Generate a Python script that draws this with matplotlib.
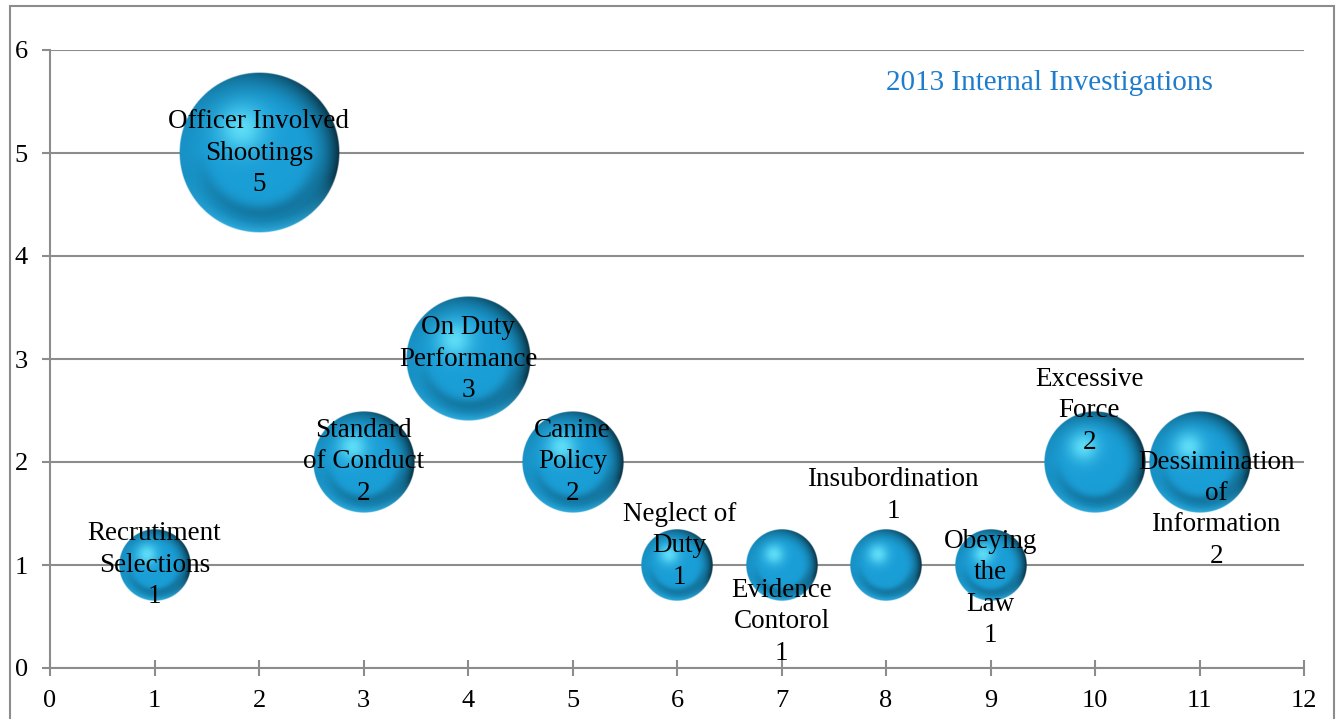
import numpy as np
import matplotlib
matplotlib.use("Agg")
import matplotlib.pyplot as plt
from matplotlib.patches import Rectangle

# investigation categories (x position, count, bubble size = count)
categories = ["Recrutiment\nSelections", "Officer Involved\nShootings", "Standard\nof Conduct",
              "On Duty\nPerformance", "Canine\nPolicy", "Neglect of\nDuty", "Evidence\nContorol",
              "Insubordination", "Obeying\nthe\nLaw", "Excessive\nForce",
              "Dessimination\nof\nInformation"]
x_pos = [1, 2, 3, 4, 5, 6, 7, 8, 9, 10, 11]
counts = [1, 5, 2, 3, 2, 1, 1, 1, 1, 2, 2]

# label nudges in points (dx, dy)
label_offsets = [(0, 0), (0, 0), (0, 0), (0, 0), (0, 0), (2, 14), (0, -41),
                 (5, 50), (0, -17), (-4, 37), (12, -34)]

plt.rcParams['font.family'] = ['Liberation Serif', 'DejaVu Serif']

W, H = 1343, 719
fig = plt.figure(figsize=(W / 100, H / 100), dpi=100)
ax = fig.add_axes([50 / W, (H - 668) / H, (1304 - 50) / W, (668 - 50) / H])
ax.set_xlim(0, 12)
ax.set_ylim(0, 6)

grey = '#8c8c8c'
ax.yaxis.grid(True, color=grey, lw=1.5, zorder=0)
ax.set_axisbelow(True)
for s in ['top', 'right']:
    ax.spines[s].set_visible(False)
for s in ['left', 'bottom']:
    ax.spines[s].set_color(grey)
    ax.spines[s].set_linewidth(1.5)
ax.set_xticks(range(0, 13))
ax.set_yticks(range(0, 7))
ax.tick_params(axis='x', direction='inout', length=11, width=1.5, color=grey,
               labelsize=19, pad=10)
ax.tick_params(axis='y', direction='out', length=6, width=1.5, color=grey,
               labelsize=19, pad=10)


def sphere(n=240):
    t = np.linspace(-1, 1, n)
    u, v = np.meshgrid(t, t)
    r = np.sqrt(u ** 2 + v ** 2)
    base = np.array([26, 158, 214]) / 255
    col = np.ones((n, n, 3)) * base
    # darker towards the edge, strongest on the right
    edge = np.clip((r - 0.5) / 0.5, 0, 1) ** 2
    dark = edge * (0.55 + 0.45 * u) * (1 - 0.8 * np.clip(-v - 0.3, 0, 1))
    col = col * (1 - 0.72 * dark)[..., None]
    # faint darker band above the lower rim
    ring = np.exp(-((r - 0.74) / 0.1) ** 2) * np.clip(-v, 0, 1)
    col = col * (1 - 0.25 * ring)[..., None]
    # light reflected along the lower rim
    rim = np.clip((r - 0.86) / 0.14, 0, 1) * np.clip(-v - 0.3, 0, 1) / 0.7
    col = col + (np.array([55, 185, 235]) / 255 - col) * (0.8 * rim)[..., None]
    # highlight up and to the left
    hl = np.exp(-((u + 0.22) ** 2 + (v - 0.3) ** 2) / (2 * 0.2 ** 2))
    col = col + (np.array([110, 235, 255]) / 255 - col) * (0.8 * hl)[..., None]
    alpha = np.clip((1 - r) * n / 2, 0, 1)
    return np.dstack([np.clip(col, 0, 1), alpha])


ball = sphere()
ext = ax.get_window_extent()
px_x = ext.width / 12
px_y = ext.height / 6
r_unit = 36  # bubble radius in pixels for a count of 1

for xv, yv, c in zip(x_pos, counts, counts):
    r = r_unit * np.sqrt(c)
    rx, ry = r / px_x, r / px_y
    ax.imshow(ball, extent=[xv - rx, xv + rx, yv - ry, yv + ry], origin='lower',
              interpolation='bilinear', aspect='auto', zorder=3)

for name, xv, yv, (dx, dy) in zip(categories, x_pos, counts, label_offsets):
    ax.annotate(f"{name}\n{yv}", (xv, yv), xytext=(dx, dy), textcoords='offset points',
                ha='center', va='center', multialignment='center', fontsize=19.5,
                linespacing=1.34, zorder=5)

ax.set_xlim(0, 12)
ax.set_ylim(0, 6)

ax.text(0.797, 0.947, "2013 Internal Investigations", transform=ax.transAxes,
        ha='center', va='center', fontsize=21, color='#1f7ccc')

# chart area frame
fig.add_artist(Rectangle((10 / W, -0.01), (1334 - 10) / W, (H - 6) / H + 0.01,
                         transform=fig.transFigure, fill=False, ec=grey, lw=1.5))

fig.savefig("out.png", dpi=100)
